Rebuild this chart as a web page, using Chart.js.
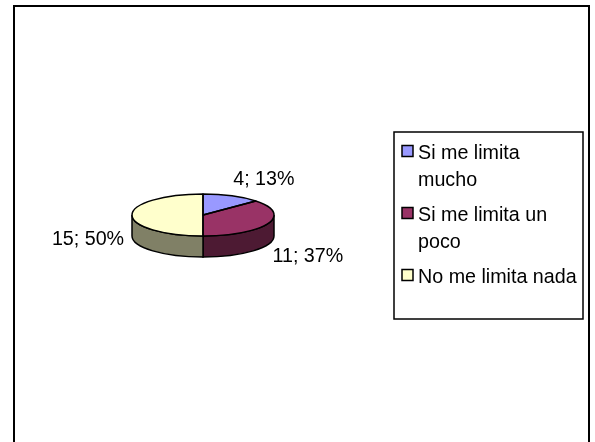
<!DOCTYPE html>
<html>
<head>
<meta charset="utf-8">
<title>Si me limita</title>
<script src="https://cdn.jsdelivr.net/npm/chart.js@4/dist/chart.umd.min.js"></script>
<style>
  html, body { margin: 0; padding: 0; background: #fff; overflow: hidden; }
  canvas { display: block; }
</style>
</head>
<body>
<canvas id="pieChart" width="595" height="442"></canvas>
<script>
const categories = ["Si me limita mucho", "Si me limita un poco", "No me limita nada"];
const values = [4, 11, 15];
const topColors = ["#9999ff", "#993366", "#ffffcc"];
const sideColors = ["#4d4d80", "#4d1a33", "#808066"];

const FONT = '19.7px "Liberation Sans", Arial, sans-serif';
const TILT = 21 / 71;
const DEPTH = 21;
// nudges away from the rim for each value label
const labelOffsets = [[32, -16], [40, 33], [-44, 25]];

function labelFor(i) {
  const total = values.reduce((a, b) => a + b, 0);
  return values[i] + "; " + Math.round(values[i] / total * 100) + "%";
}

// outer frame, runs off the bottom of the page
const framePlugin = {
  id: "frame",
  beforeDraw(chart) {
    const ctx = chart.ctx;
    ctx.save();
    ctx.strokeStyle = "#000";
    ctx.lineWidth = 2;
    ctx.beginPath();
    ctx.moveTo(14, 446);
    ctx.lineTo(14, 6);
    ctx.lineTo(589, 6);
    ctx.lineTo(589, 446);
    ctx.stroke();
    ctx.restore();
  },
};

// squashes the pie into an ellipse and adds the rim below it
const tiltPlugin = {
  id: "tilt",
  beforeDatasetsDraw(chart) {
    const ctx = chart.ctx;
    const arcs = chart.getDatasetMeta(0).data;
    const { x: cx, y: cy, outerRadius: r } = arcs[0];
    const ry = r * TILT;
    ctx.save();
    ctx.lineWidth = 1.5;
    ctx.strokeStyle = "#000";
    arcs.forEach((arc, i) => {
      const a = Math.max(arc.startAngle, 0);
      const b = Math.min(arc.endAngle, Math.PI);
      if (b <= a) return;
      ctx.beginPath();
      ctx.ellipse(cx, cy, r, ry, 0, a, b);
      ctx.ellipse(cx, cy + DEPTH, r, ry, 0, b, a, true);
      ctx.closePath();
      ctx.fillStyle = sideColors[i];
      ctx.fill();
      ctx.stroke();
    });
    ctx.restore();

    ctx.save();
    ctx.translate(cx, cy);
    ctx.scale(1, TILT);
    ctx.translate(-cx, -cy);
  },
  afterDatasetsDraw(chart) {
    const ctx = chart.ctx;
    ctx.restore();
    const arcs = chart.getDatasetMeta(0).data;
    ctx.save();
    ctx.lineWidth = 1.5;
    ctx.strokeStyle = "#000";
    ctx.lineJoin = "round";
    arcs.forEach((arc) => {
      const ry = arc.outerRadius * TILT;
      ctx.beginPath();
      ctx.moveTo(arc.x, arc.y);
      ctx.ellipse(arc.x, arc.y, arc.outerRadius, ry, 0, arc.startAngle, arc.endAngle);
      ctx.closePath();
      ctx.stroke();
    });

    // value labels
    ctx.font = FONT;
    ctx.fillStyle = "#000";
    ctx.textAlign = "center";
    ctx.textBaseline = "middle";
    arcs.forEach((arc, i) => {
      const mid = (arc.startAngle + arc.endAngle) / 2;
      const px = arc.x + arc.outerRadius * Math.cos(mid);
      const py = arc.y + arc.outerRadius * TILT * Math.sin(mid);
      ctx.fillText(labelFor(i), px + labelOffsets[i][0], py + labelOffsets[i][1]);
    });
    ctx.restore();
  },
};

// boxed legend with wrapped entries
const legendPlugin = {
  id: "boxLegend",
  afterDraw(chart) {
    const ctx = chart.ctx;
    const box = { x: 394, y: 132, w: 189, h: 187 };
    const textX = 418;
    const maxWidth = box.x + box.w - textX;
    ctx.save();
    ctx.fillStyle = "#fff";
    ctx.strokeStyle = "#000";
    ctx.lineWidth = 1.5;
    ctx.fillRect(box.x, box.y, box.w, box.h);
    ctx.strokeRect(box.x, box.y, box.w, box.h);
    ctx.font = FONT;
    ctx.textAlign = "left";
    ctx.textBaseline = "alphabetic";
    let y = 159;
    categories.forEach((name, i) => {
      ctx.fillStyle = topColors[i];
      ctx.lineWidth = 1.5;
      ctx.fillRect(402, y - 13.5, 11, 11);
      ctx.strokeRect(402, y - 13.5, 11, 11);
      ctx.fillStyle = "#000";
      let line = "";
      const lines = [];
      name.split(" ").forEach((word) => {
        const next = line ? line + " " + word : word;
        if (ctx.measureText(next).width > maxWidth) {
          lines.push(line);
          line = word;
        } else {
          line = next;
        }
      });
      lines.push(line);
      lines.forEach((text, n) => {
        ctx.fillText(text, textX, y);
        y += n < lines.length - 1 ? 27 : 35;
      });
    });
    ctx.restore();
  },
};

new Chart(document.getElementById("pieChart"), {
  type: "pie",
  data: {
    labels: categories,
    datasets: [{ data: values, backgroundColor: topColors, borderWidth: 0 }],
  },
  options: {
    responsive: false,
    animation: false,
    layout: { padding: { left: 132, right: 321, top: 144, bottom: 156 } },
    plugins: { legend: { display: false }, tooltip: { enabled: false } },
    events: [],
  },
  plugins: [framePlugin, tiltPlugin, legendPlugin],
});
</script>
</body>
</html>
